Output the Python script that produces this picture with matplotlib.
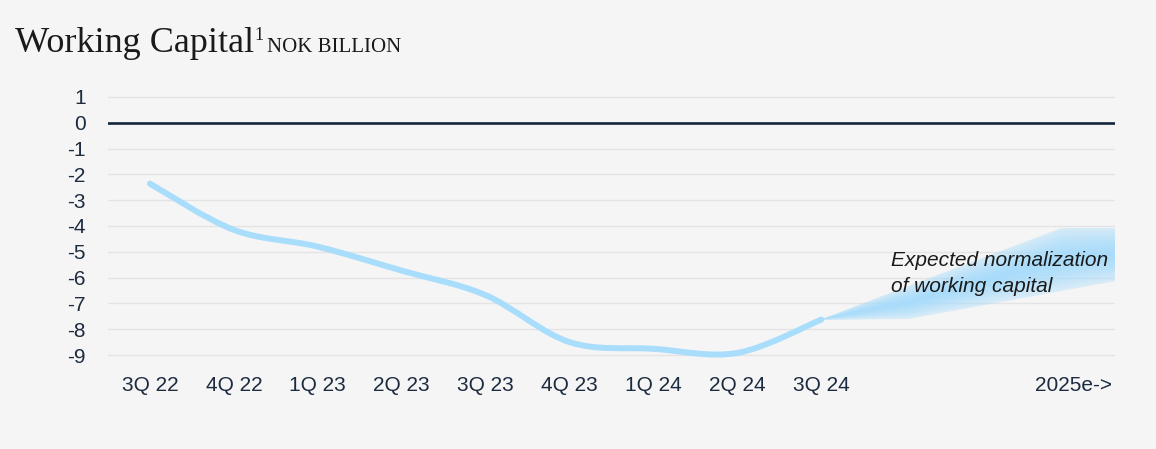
import numpy as np
import matplotlib
matplotlib.use('Agg')
import matplotlib.pyplot as plt
from matplotlib.path import Path
from matplotlib.patches import PathPatch, Polygon
from matplotlib.colors import to_rgb

# data (NOK billion)
quarters = ['3Q 22', '4Q 22', '1Q 23', '2Q 23', '3Q 23', '4Q 23',
            '1Q 24', '2Q 24', '3Q 24', '', '', '2025e->']
wc_values = [-2.36, -4.15, -4.8, -5.73, -6.68, -8.5, -8.76, -8.92, -7.63]

# expected normalization band (category index, lower / upper edge)
fan_x = [8.0, 9.05, 10.86, 11.5]
fan_lower = [-7.65, -7.6, -6.52, -6.14]
fan_upper = [-7.61, -6.31, -4.08, -4.08]

y_ticks = list(range(1, -10, -1))

_BG = '#f5f5f5'
_LINE = '#a9ddfc'
_NAVY = '#14253d'
_TXT = '#1c2b3f'
_SANS = ['Liberation Sans', 'DejaVu Sans']
_SERIF = ['Liberation Serif', 'DejaVu Serif']


def _smooth_path(xs, ys):
    # Catmull-Rom style bezier through the points (same look as office "smoothed line")
    pts = np.column_stack([xs, ys]).astype(float)
    verts = [pts[0]]
    codes = [Path.MOVETO]
    n = len(pts)
    for i in range(n - 1):
        p0 = pts[i - 1] if i > 0 else pts[i]
        p1 = pts[i]
        p2 = pts[i + 1]
        p3 = pts[i + 2] if i + 2 < n else pts[i + 1]
        c1 = p1 + (p2 - p0) / 6.0
        c2 = p2 - (p3 - p1) / 6.0
        verts += [c1, c2, p2]
        codes += [Path.CURVE4] * 3
    return Path(verts, codes)


plt.rcParams['font.family'] = _SANS

fig = plt.figure(figsize=(11.56, 4.49), dpi=100)
fig.patch.set_facecolor(_BG)
ax = fig.add_axes([0.0934, 0.2036, 0.8711, 0.5862])
ax.set_facecolor(_BG)

ax.set_xlim(-0.5, len(quarters) - 0.5)
ax.set_ylim(-9.1, 1.1)

ax.set_yticks(y_ticks)
ax.set_yticklabels([str(v) for v in y_ticks])
ax.set_xticks(range(len(quarters)))
ax.set_xticklabels(quarters)
ax.tick_params(axis='both', length=0, labelsize=15, labelcolor=_TXT)
ax.tick_params(axis='y', pad=16)
ax.tick_params(axis='x', pad=13)
for s in ax.spines.values():
    s.set_visible(False)

ax.grid(axis='y', color='#e4e4e4', lw=1.0)
ax.set_axisbelow(True)
ax.axhline(0, color=_NAVY, lw=1.9, zorder=2)

# band: gradient image (dark core, soft edges) clipped to the band outline
fx = np.array(fan_x)
lo = np.array(fan_lower)
hi = np.array(fan_upper)
gx = np.linspace(fx[0], fx[-1], 300)
gy = np.linspace(lo.min(), hi.max(), 200)
GX, GY = np.meshgrid(gx, gy)
mid = np.interp(GX, fx, (lo + hi) / 2)
half = np.maximum(np.interp(GX, fx, (hi - lo) / 2), 1e-3)
t = np.clip(np.abs(GY - mid) / half, 0, 1)
rgba = np.zeros(GX.shape + (4,))
rgba[..., :3] = to_rgb('#a6dbfb')
rgba[..., 3] = 0.35 + 0.6 * (1 - t ** 1.6)
img = ax.imshow(rgba, extent=(gx[0], gx[-1], gy[0], gy[-1]), origin='lower',
                aspect='auto', interpolation='bilinear', zorder=3)
band = Polygon(np.column_stack([np.r_[fx, fx[::-1]], np.r_[hi, lo[::-1]]]),
               closed=True, fc='none', ec='none', transform=ax.transData)
ax.add_patch(band)
img.set_clip_path(band)
ax.set_xlim(-0.5, len(quarters) - 0.5)
ax.set_ylim(-9.1, 1.1)

# the actual series, smoothed
xs = np.arange(len(wc_values))
ax.add_patch(PathPatch(_smooth_path(xs, wc_values), fc='none', ec=_LINE,
                       lw=4.3, capstyle='round', zorder=4))

ax.text(8.83, -4.98, 'Expected normalization\nof working capital',
        fontsize=15, style='italic', color='#1a1a1a', va='top', ha='left',
        linespacing=1.42, zorder=5)

# title, pieces placed one after another
t1 = fig.text(0.013, 0.885, 'Working Capital', fontsize=26, family=_SERIF,
              color='#1a1a1a', va='baseline')
r = fig.canvas.get_renderer()
bb = t1.get_window_extent(r).transformed(fig.transFigure.inverted())
t2 = fig.text(bb.x1 + 0.0005, 0.912, '1', fontsize=13, family=_SERIF,
              color='#1a1a1a', va='baseline')
bb2 = t2.get_window_extent(r).transformed(fig.transFigure.inverted())
fig.text(bb2.x1 + 0.003, 0.885, 'NOK BILLION', fontsize=15, family=_SERIF,
         color='#1a1a1a', va='baseline')

fig.savefig('out.png', dpi=100, facecolor=_BG)
